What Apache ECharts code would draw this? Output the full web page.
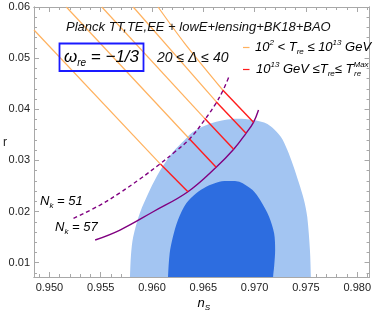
<!DOCTYPE html>
<html><head><meta charset="utf-8">
<script src="https://cdn.jsdelivr.net/npm/echarts@6/dist/echarts.min.js"></script>
<style>html,body{margin:0;padding:0;background:#fff}#c{width:374px;height:311px}</style>
</head><body><div id="c"></div>
<script>
// ---- axis ranges & ticks ----
const xMin = 0.9485, xMax = 0.9812;
const yMin = 0.0072, yMax = 0.06;
const xTicks = [0.950, 0.955, 0.960, 0.965, 0.970, 0.975, 0.980];
const yTicks = [0.01, 0.02, 0.03, 0.04, 0.05, 0.06];
const xMinorTicks = [0.949,0.951,0.952,0.953,0.954,0.956,0.957,0.958,0.959,0.961,0.962,0.963,0.964,0.966,0.967,0.968,0.969,0.971,0.972,0.973,0.974,0.976,0.977,0.978,0.979,0.981];
const yMinorTicks = [0.008,0.012,0.014,0.016,0.018,0.022,0.024,0.026,0.028,0.032,0.034,0.036,0.038,0.042,0.044,0.046,0.048,0.052,0.054,0.056,0.058];

// ---- Planck contours (n_s, r) ----
const contour95 = [[0.9578,0.005],[0.95785,0.0072],[0.95795,0.01149],[0.95817,0.01507],[0.95882,0.01971],[0.95979,0.0242],[0.96076,0.02792],[0.96204,0.03164],[0.96318,0.03399],[0.96398,0.03555],[0.96577,0.03725],[0.96786,0.03809],[0.9698,0.0379],[0.97125,0.03711],[0.97255,0.03463],[0.97319,0.03203],[0.97374,0.0291],[0.97432,0.02557],[0.97481,0.02225],[0.97513,0.01892],[0.97539,0.01247],[0.97548,0.0072],[0.9755,0.005]];
const contour68 = [[0.96155,0.005],[0.96156,0.0072],[0.96172,0.01182],[0.96204,0.01507],[0.96253,0.01834],[0.96334,0.0216],[0.96431,0.02356],[0.96528,0.02485],[0.96657,0.02583],[0.96754,0.02597],[0.96851,0.02583],[0.9698,0.0242],[0.97054,0.02225],[0.97141,0.01898],[0.9719,0.01574],[0.972,0.01247],[0.9719,0.0092],[0.9718,0.0072],[0.9718,0.005]];

// ---- N_k curves ----
const nk51 = [[0.95235,0.01867],[0.95494,0.02127],[0.95688,0.02368],[0.95882,0.02636],[0.96076,0.02929],[0.96221,0.03164],[0.96366,0.03418],[0.96512,0.0379],[0.96625,0.04122],[0.96689,0.04357],[0.96747,0.04625]];
const nk57 = [[0.95446,0.01443],[0.95688,0.01638],[0.96011,0.01996],[0.9635,0.02387],[0.96625,0.02865],[0.96796,0.03217],[0.96916,0.0353],[0.96989,0.03745],[0.97038,0.03985]];

// ---- reheating temperature lines ----
const orange1 = [[0.96059,0.06],[0.96318,0.0529],[0.96689,0.04377]];
const red1 = [[0.96689,0.04377],[0.96989,0.03745]];
const orange2 = [[0.95817,0.06],[0.96625,0.04148]];
const red2 = [[0.96625,0.04148],[0.96916,0.0353]];
const orange3 = [[0.95511,0.06],[0.96512,0.03823]];
const red3 = [[0.96512,0.03823],[0.96796,0.03217]];
const orange4 = [[0.95165,0.06],[0.96366,0.03418]];
const red4 = [[0.96366,0.03418],[0.96625,0.02865]];
const orange5 = [[0.9485,0.0555],[0.96082,0.02929]];
const red5 = [[0.96082,0.02929],[0.9635,0.02387]];

const FONT = '"Liberation Sans", Arial, sans-serif';
const frameColor = '#a8a8a8';
const ORANGE = '#ffb15e', RED = '#ff1c1c', PURPLE = '#800080', BLUE = '#1a1aff';

function xAx(pos, vals, len, labels) {
  return {type:'value', min:xMin, max:xMax, position:pos, gridIndex:0,
    axisLine:{show:true, onZero:false, lineStyle:{color:frameColor, width:1}},
    axisTick:{show:true, inside:true, length:len, customValues:vals, lineStyle:{color:frameColor}},
    axisLabel:{show:labels, customValues: labels ? vals : undefined, formatter:v=>v.toFixed(3), fontSize:11, color:'#222', fontFamily:FONT, margin:5},
    splitLine:{show:false}, minorTick:{show:false}};
}
function yAx(pos, vals, len, labels) {
  return {type:'value', min:yMin, max:yMax, position:pos, gridIndex:0,
    axisLine:{show:true, onZero:false, lineStyle:{color:frameColor, width:1}},
    axisTick:{show:true, inside:true, length:len, customValues:vals, lineStyle:{color:frameColor}},
    axisLabel:{show:labels, customValues: labels ? vals : undefined, formatter:v=>v.toFixed(2), fontSize:11, color:'#222', fontFamily:FONT, margin:4},
    splitLine:{show:false}, minorTick:{show:false}};
}
function poly(pts, color, z) {
  return {type:'custom', coordinateSystem:'cartesian2d', xAxisIndex:0, yAxisIndex:0, z:z, silent:true, clip:true,
    data: pts, encode:{x:0, y:1},
    renderItem: function(params, api) {
      if (params.dataIndex !== 0) return;
      const cs = params.coordSys;
      return {type:'polygon', shape:{points: pts.map(p => api.coord(p)), smooth:0.3}, style:{fill:color},
        clipPath:{type:'rect', shape:{x:cs.x, y:cs.y, width:cs.width, height:cs.height}}};
    }};
}
function ln(data, color, width, z, type, smooth) {
  return {type:'line', data:data, xAxisIndex:0, yAxisIndex:0, showSymbol:false, symbol:'none', z:z, silent:true, clip:true,
    smooth: smooth || false,
    lineStyle:{color:color, width:width, type: type || 'solid'}};
}
const richBase = (size, color) => ({
  m:{fontSize:size, fontStyle:'italic', fontFamily:FONT, color:color, lineHeight:size+4},
  b:{fontSize:Math.round(size*0.62), fontStyle:'italic', fontFamily:FONT, color:color, verticalAlign:'bottom'},
  p:{fontSize:Math.round(size*0.62), fontStyle:'italic', fontFamily:FONT, color:color, verticalAlign:'top'}
});

const chart = echarts.init(document.getElementById('c'), null, {renderer:'canvas'});
chart.setOption({
  animation:false,
  backgroundColor:'#fff',
  grid:{left:34, right:3, top:7, bottom:34, containLabel:false},
  xAxis:[xAx('bottom', xTicks, 5, true), xAx('bottom', xMinorTicks, 3, false), xAx('top', xTicks, 5, false), xAx('top', xMinorTicks, 3, false)],
  yAxis:[yAx('left', yTicks, 5, true), yAx('left', yMinorTicks, 3, false), yAx('right', yTicks, 5, false), yAx('right', yMinorTicks, 3, false)],
  series:[
    poly(contour95, '#a3c5f2', 1),
    poly(contour68, '#2d6de0', 2),
    ln(orange1, ORANGE, 1.2, 3, null, 0.3), ln(orange2, ORANGE, 1.2, 3), ln(orange3, ORANGE, 1.2, 3), ln(orange4, ORANGE, 1.2, 3), ln(orange5, ORANGE, 1.2, 3),
    ln(nk51, PURPLE, 1.4, 4, [4,3], 0.4),
    ln(nk57, PURPLE, 1.4, 4, null, 0.4),
    ln(red1, RED, 1.4, 5), ln(red2, RED, 1.4, 5), ln(red3, RED, 1.4, 5), ln(red4, RED, 1.4, 5), ln(red5, RED, 1.4, 5)
  ],
  graphic:[
    {type:'text', x:66, y:27, z:10, style:{text:'Planck TT,TE,EE + lowE+lensing+BK18+BAO', font:'italic 13px '+FONT, fill:'#111', align:'left', verticalAlign:'middle', textAlign:'left', textVerticalAlign:'middle'}},
    {type:'rect', z:10, shape:{x:59.5, y:43.5, width:84, height:27.5}, style:{fill:'rgba(255,255,255,0)', stroke:BLUE, lineWidth:1.8}},
    {type:'text', x:101.5, y:57.5, z:10, style:{text:'{w|ω}{s|re}{w| = −1/3}', align:'center', verticalAlign:'middle', textAlign:'center', textVerticalAlign:'middle',
      rich:{w:{fontSize:17, fontStyle:'italic', fontFamily:FONT, color:BLUE, lineHeight:22}, s:{fontSize:10, fontStyle:'italic', fontFamily:FONT, color:BLUE, verticalAlign:'bottom'}}}},
    {type:'text', x:157, y:58, z:10, style:{text:'20 ≤ Δ ≤ 40', font:'italic 14px '+FONT, fill:'#111', align:'left', verticalAlign:'middle', textAlign:'left', textVerticalAlign:'middle'}},
    {type:'line', z:10, shape:{x1:243, y1:47.5, x2:249.5, y2:47.5}, style:{stroke:ORANGE, lineWidth:1.2}},
    {type:'line', z:10, shape:{x1:243, y1:69.5, x2:249.5, y2:69.5}, style:{stroke:RED, lineWidth:1.2}},
    {type:'text', x:255, y:47, z:10, style:{text:'{m|10}{p|2}{m| < T}{b|re}{m| ≤ 10}{p|13}{m| GeV}', align:'left', verticalAlign:'middle', textAlign:'left', textVerticalAlign:'middle', rich:richBase(13,'#111')}},
    {type:'text', x:256, y:69.5, z:10, style:{text:'{m|10}{p|13}{m| GeV ≤T}{b|re}{m|≤ T}{p|Max}', align:'left', verticalAlign:'middle', textAlign:'left', textVerticalAlign:'middle', rich:richBase(13,'#111')}},
    {type:'text', x:354, y:74, z:10, style:{text:'re', font:'italic 8px '+FONT, fill:'#111', align:'left', verticalAlign:'middle', textAlign:'left', textVerticalAlign:'middle'}},
    {type:'text', x:40, y:201.5, z:10, style:{text:'{m|N}{b|k}{m| = 51}', align:'left', verticalAlign:'middle', textAlign:'left', textVerticalAlign:'middle', rich:richBase(13,PURPLE)}},
    {type:'text', x:55, y:227, z:10, style:{text:'{m|N}{b|k}{m| = 57}', align:'left', verticalAlign:'middle', textAlign:'left', textVerticalAlign:'middle', rich:richBase(13,PURPLE)}},
    {type:'text', x:197.5, y:303, z:10, style:{text:'{m|n}{b|S}', align:'left', verticalAlign:'middle', textAlign:'left', textVerticalAlign:'middle', rich:richBase(13,'#222')}},
    {type:'text', x:3, y:143, z:10, style:{text:'r', font:'12px '+FONT, fill:'#222', align:'left', verticalAlign:'middle', textAlign:'left', textVerticalAlign:'middle'}}
  ]
});
</script></body></html>
